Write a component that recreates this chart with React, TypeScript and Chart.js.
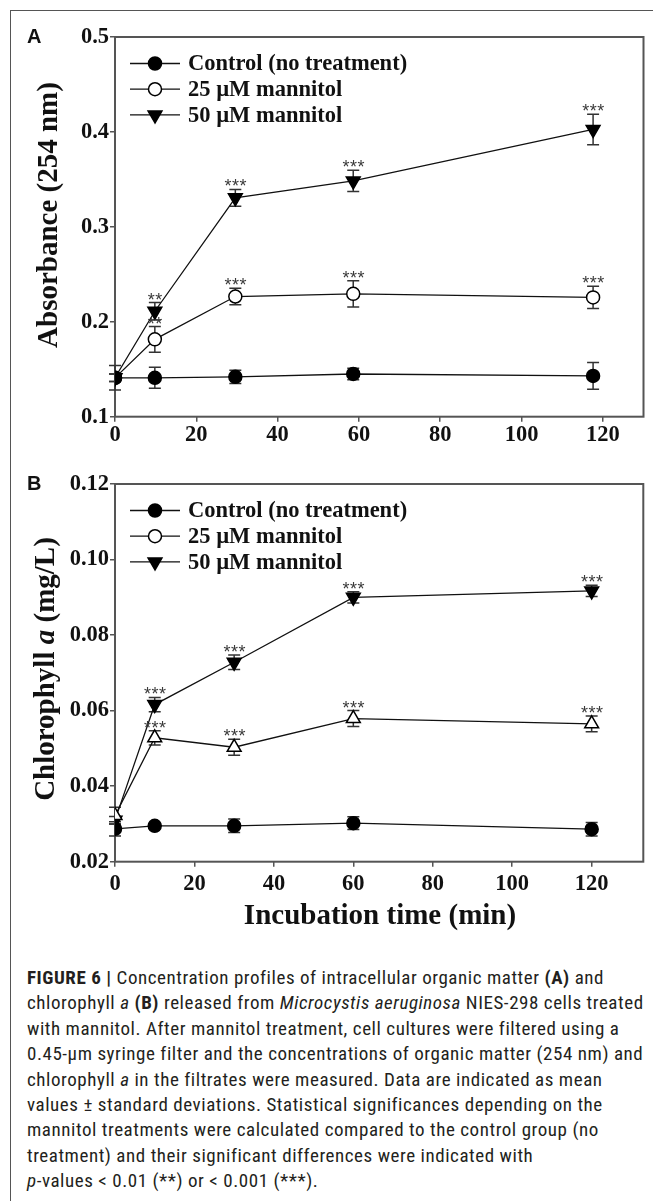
import React, { useEffect, useRef } from "react";
import { Chart, registerables } from "chart.js";

Chart.register(...registerables);

const SERIF = '"Liberation Serif", "Times New Roman", Times, serif';
const SANS = '"Liberation Sans", Arial, Helvetica, sans-serif';

// ---------- Panel A : Absorbance (254 nm) ----------
const timeA = [0, 9.8, 29.6, 58.6, 117.6];
const controlA = [0.141, 0.141, 0.142, 0.145, 0.143];
const controlAErr = [0.013, 0.011, 0.007, 0.006, 0.014];
const mannitol25A = [0.141, 0.1815, 0.2266, 0.2294, 0.2257];
const mannitol25AErr = [0.004, 0.0135, 0.0086, 0.0139, 0.0116];
const mannitol50A = [0.141, 0.2111, 0.3306, 0.3484, 0.4026];
const mannitol50AErr = [0.004, 0.0092, 0.0088, 0.0112, 0.016];
const sig25A = ["", "**", "***", "***", "***"];
const sig50A = ["", "**", "***", "***", "***"];
const xTicksA = [0, 20, 40, 60, 80, 100, 120];
const yTicksA = [0.1, 0.2, 0.3, 0.4, 0.5];

// ---------- Panel B : Chlorophyll a (mg/L) ----------
const timeB = [0, 10, 30, 60, 120];
const controlB = [0.0287, 0.0295, 0.0295, 0.0302, 0.0286];
const controlBErr = [0.0019, 0.0005, 0.0018, 0.0017, 0.0018];
const mannitol25B = [0.0322, 0.0528, 0.0503, 0.0579, 0.0565];
const mannitol25BErr = [0.0022, 0.0019, 0.0021, 0.0021, 0.0021];
const mannitol50B = [0.031, 0.0616, 0.0728, 0.09, 0.0917];
const mannitol50BErr = [0.001, 0.0019, 0.0019, 0.0015, 0.0015];
const sig25B = ["", "***", "***", "***", "***"];
const sig50B = ["", "***", "***", "***", "***"];
const xTicksB = [0, 20, 40, 60, 80, 100, 120];
const yTicksB = [0.02, 0.04, 0.06, 0.08, 0.1, 0.12];

const legendLabels = ["Control (no treatment)", "25 \u00b5M mannitol", "50 \u00b5M mannitol"];

type Marker = "filledCircle" | "openCircle" | "downTri" | "openUpTri";

interface SeriesSpec {
  label: string;
  values: number[];
  err: number[];
  sig: string[] | null;
  marker: Marker;
  legendMarker: Marker;
}

interface PanelSpec {
  xs: number[];
  xMax: number;
  xTicks: number[];
  yTicks: number[];
  yMin: number;
  yMax: number;
  yDecimals: number;
  series: SeriesSpec[];
  letter: string;
  yTitleParts: [string, boolean][];
  yTitleCx: number;
  yTitleCy: number;
  xTitle: string | null;
  xTitleCx: number;
  xTitleCy: number;
  canvasTop: number;
  canvasH: number;
  padTop: number;
  padRight: number;
  padBottom: number;
  xAxisHeight: number;
  xLabelPad: number;
  letterY: number;
}

function drawMarker(ctx: CanvasRenderingContext2D, kind: Marker, x: number, y: number) {
  ctx.save();
  ctx.lineWidth = 1.5;
  ctx.strokeStyle = "#000";
  ctx.beginPath();
  if (kind === "filledCircle" || kind === "openCircle") {
    ctx.arc(x, y, 6.5, 0, Math.PI * 2);
    ctx.fillStyle = kind === "filledCircle" ? "#000" : "#fff";
  } else if (kind === "downTri") {
    const r = 8;
    ctx.moveTo(x, y + r);
    ctx.lineTo(x - r * 0.866, y - r / 2);
    ctx.lineTo(x + r * 0.866, y - r / 2);
    ctx.closePath();
    ctx.fillStyle = "#000";
  } else {
    const r = 8;
    ctx.moveTo(x, y - r);
    ctx.lineTo(x - r * 0.866, y + r / 2);
    ctx.lineTo(x + r * 0.866, y + r / 2);
    ctx.closePath();
    ctx.fillStyle = "#fff";
  }
  ctx.fill();
  ctx.stroke();
  ctx.restore();
}

function pointProps(kind: Marker) {
  switch (kind) {
    case "filledCircle":
      return { pointStyle: "circle", pointRadius: 6.5, pointBackgroundColor: "#000", pointRotation: 0 };
    case "openCircle":
      return { pointStyle: "circle", pointRadius: 6.5, pointBackgroundColor: "#fff", pointRotation: 0 };
    case "downTri":
      return { pointStyle: "triangle", pointRadius: 8, pointBackgroundColor: "#000", pointRotation: 180 };
    default:
      return { pointStyle: "triangle", pointRadius: 8, pointBackgroundColor: "#fff", pointRotation: 0 };
  }
}

function buildChart(canvas: HTMLCanvasElement, spec: PanelSpec) {
  const decor = {
    id: "decor" + spec.letter,
    beforeDatasetsDraw(chart: any) {
      const { ctx, chartArea: ca, scales } = chart;
      const x = scales.x;
      const y = scales.y;
      ctx.save();
      // plot frame
      ctx.strokeStyle = "#555";
      ctx.lineWidth = 2;
      ctx.strokeRect(ca.left, ca.top, ca.right - ca.left, ca.bottom - ca.top);
      // error bars
      ctx.strokeStyle = "#333";
      ctx.lineWidth = 1.5;
      spec.series.forEach((s) => {
        spec.xs.forEach((xv, i) => {
          const px = x.getPixelForValue(xv);
          const top = y.getPixelForValue(s.values[i] + s.err[i]);
          const bot = y.getPixelForValue(s.values[i] - s.err[i]);
          ctx.beginPath();
          ctx.moveTo(px, top);
          ctx.lineTo(px, bot);
          ctx.moveTo(px - 6, top);
          ctx.lineTo(px + 6, top);
          ctx.moveTo(px - 6, bot);
          ctx.lineTo(px + 6, bot);
          ctx.stroke();
        });
      });
      ctx.restore();
    },
    afterDraw(chart: any) {
      const { ctx, chartArea: ca, scales } = chart;
      const x = scales.x;
      const y = scales.y;
      ctx.save();
      // significance stars
      ctx.font = `18px ${SANS}`;
      ctx.fillStyle = "#3a3a3a";
      ctx.textAlign = "center";
      ctx.textBaseline = "alphabetic";
      try {
        (ctx as any).letterSpacing = "0.5px";
      } catch (e) {
        /* ignore */
      }
      spec.series.forEach((s) => {
        if (!s.sig) return;
        spec.xs.forEach((xv, i) => {
          const t = s.sig![i];
          if (!t) return;
          const px = x.getPixelForValue(xv);
          const top = y.getPixelForValue(s.values[i] + s.err[i]);
          ctx.fillText(t, px + 0.5, top + 3);
        });
      });
      try {
        (ctx as any).letterSpacing = "0px";
      } catch (e) {
        /* ignore */
      }
      // legend
      spec.series.forEach((s, i) => {
        const ly = ca.top + 26.5 + i * 25.7;
        ctx.strokeStyle = "#111";
        ctx.lineWidth = 1.3;
        ctx.beginPath();
        ctx.moveTo(130, ly);
        ctx.lineTo(180, ly);
        ctx.stroke();
        drawMarker(ctx, s.legendMarker, 155, ly);
        ctx.fillStyle = "#111";
        ctx.font = `bold 22.5px ${SERIF}`;
        ctx.textAlign = "left";
        ctx.textBaseline = "middle";
        ctx.fillText(s.label, 188, ly + 1);
      });
      // panel letter
      ctx.fillStyle = "#111";
      ctx.font = `bold 20px ${SANS}`;
      ctx.textAlign = "left";
      ctx.textBaseline = "middle";
      ctx.fillText(spec.letter, 27, spec.letterY);
      // y title
      ctx.save();
      ctx.translate(spec.yTitleCx, spec.yTitleCy);
      ctx.rotate(-Math.PI / 2);
      ctx.textBaseline = "middle";
      ctx.textAlign = "left";
      const fonts = spec.yTitleParts.map(([, it]) => (it ? `italic bold 29px ${SERIF}` : `bold 29px ${SERIF}`));
      let total = 0;
      const widths = spec.yTitleParts.map(([t], k) => {
        ctx.font = fonts[k];
        const w = ctx.measureText(t).width;
        total += w;
        return w;
      });
      let cx = -total / 2;
      spec.yTitleParts.forEach(([t], k) => {
        ctx.font = fonts[k];
        ctx.fillText(t, cx, 0);
        cx += widths[k];
      });
      ctx.restore();
      // x title
      if (spec.xTitle) {
        ctx.font = `bold 29px ${SERIF}`;
        ctx.textAlign = "center";
        ctx.textBaseline = "middle";
        ctx.fillText(spec.xTitle, spec.xTitleCx, spec.xTitleCy);
      }
      ctx.restore();
    },
  };

  const datasets = spec.series.map((s) => ({
    label: s.label,
    data: spec.xs.map((xv, i) => ({ x: xv, y: s.values[i] })),
    borderColor: "#111",
    borderWidth: 1.3,
    pointBorderColor: "#000",
    pointBorderWidth: 1.5,
    tension: 0,
    fill: false,
    ...pointProps(s.marker),
  }));

  const tickFont = { family: SERIF, size: 22.5, weight: "bold" as const };

  return new Chart(canvas, {
    type: "line",
    data: { datasets: datasets as any },
    options: {
      animation: false,
      responsive: false,
      maintainAspectRatio: false,
      layout: { padding: { left: 0, top: spec.padTop, right: spec.padRight, bottom: spec.padBottom } },
      plugins: { legend: { display: false }, tooltip: { enabled: false } },
      scales: {
        x: {
          type: "linear",
          min: 0,
          max: spec.xMax,
          afterBuildTicks: (s: any) => {
            s.ticks = spec.xTicks.map((v) => ({ value: v }));
          },
          afterFit: (s: any) => {
            s.height = spec.xAxisHeight;
          },
          grid: { drawOnChartArea: false, drawTicks: true, tickLength: 5, color: "#555", lineWidth: 1.5 },
          border: { display: false },
          ticks: {
            font: tickFont,
            color: "#111",
            padding: spec.xLabelPad,
            maxRotation: 0,
            autoSkip: false,
            callback: (v: any) => String(v),
          },
        },
        y: {
          type: "linear",
          min: spec.yMin,
          max: spec.yMax,
          afterBuildTicks: (s: any) => {
            s.ticks = spec.yTicks.map((v) => ({ value: v }));
          },
          afterFit: (s: any) => {
            s.width = 115;
          },
          grid: { drawOnChartArea: false, drawTicks: true, tickLength: 5, color: "#555", lineWidth: 1.5 },
          border: { display: false },
          ticks: {
            font: tickFont,
            color: "#111",
            padding: 1,
            autoSkip: false,
            callback: (v: any) => Number(v).toFixed(spec.yDecimals),
          },
        },
      },
    } as any,
    plugins: [decor],
  });
}

const panelA: PanelSpec = {
  xs: timeA,
  xMax: 130,
  xTicks: xTicksA,
  yTicks: yTicksA,
  yMin: 0.1,
  yMax: 0.5,
  yDecimals: 1,
  series: [
    { label: legendLabels[0], values: controlA, err: controlAErr, sig: null, marker: "filledCircle", legendMarker: "filledCircle" },
    { label: legendLabels[1], values: mannitol25A, err: mannitol25AErr, sig: sig25A, marker: "openCircle", legendMarker: "openCircle" },
    { label: legendLabels[2], values: mannitol50A, err: mannitol50AErr, sig: sig50A, marker: "downTri", legendMarker: "downTri" },
  ],
  letter: "A",
  yTitleParts: [["Absorbance (254 nm)", false]],
  yTitleCx: 50,
  yTitleCy: 215,
  xTitle: null,
  xTitleCx: 0,
  xTitleCy: 0,
  canvasTop: 0,
  canvasH: 460,
  padTop: 37,
  padRight: 9,
  padBottom: 13.3,
  xAxisHeight: 30,
  xLabelPad: 0,
  letterY: 37,
};

const panelB: PanelSpec = {
  xs: timeB,
  xMax: 133,
  xTicks: xTicksB,
  yTicks: yTicksB,
  yMin: 0.02,
  yMax: 0.12,
  yDecimals: 2,
  series: [
    { label: legendLabels[0], values: controlB, err: controlBErr, sig: null, marker: "filledCircle", legendMarker: "filledCircle" },
    { label: legendLabels[1], values: mannitol25B, err: mannitol25BErr, sig: sig25B, marker: "openUpTri", legendMarker: "openCircle" },
    { label: legendLabels[2], values: mannitol50B, err: mannitol50BErr, sig: sig50B, marker: "downTri", legendMarker: "downTri" },
  ],
  letter: "B",
  yTitleParts: [["Chlorophyll ", false], ["a", true], [" (mg/L)", false]],
  yTitleCx: 47,
  yTitleCy: 209,
  xTitle: "Incubation time (min)",
  xTitleCx: 380,
  xTitleCy: 457,
  canvasTop: 460,
  canvasH: 480,
  padTop: 24,
  padRight: 9.7,
  padBottom: 48.3,
  xAxisHeight: 30,
  xLabelPad: 4,
  letterY: 24,
};

function Panel({ spec }: { spec: PanelSpec }) {
  const ref = useRef<HTMLCanvasElement | null>(null);
  useEffect(() => {
    if (!ref.current) return;
    const chart = buildChart(ref.current, spec);
    return () => chart.destroy();
  }, [spec]);
  return (
    <canvas
      ref={ref}
      width={653}
      height={spec.canvasH}
      style={{ position: "absolute", left: 0, top: spec.canvasTop, width: 653, height: spec.canvasH }}
    />
  );
}

const CAPTION_FONT = '"Liberation Sans Narrow", "Roboto Condensed", "DejaVu Sans Condensed", "Liberation Sans", sans-serif';

export default function App() {
  return (
    <div style={{ position: "absolute", left: 0, top: 0, width: 653, height: 1201, overflow: "hidden", background: "#fff" }}>
      <div
        style={{
          position: "absolute",
          left: 10,
          top: 10,
          width: 800,
          height: 1400,
          borderTop: "1.5px solid #555",
          borderLeft: "1.5px solid #555",
        }}
      />
      <Panel spec={panelA} />
      <Panel spec={panelB} />
      <div
        style={{
          position: "absolute",
          left: 27,
          top: 965,
          fontFamily: CAPTION_FONT,
          fontSize: 19,
          letterSpacing: "0.55px",
          lineHeight: "25.4px",
          color: "#231f20",
          whiteSpace: "nowrap",
        }}
      >
        <div>
          <b>FIGURE 6 |</b> Concentration profiles of intracellular organic matter <b>(A)</b> and
        </div>
        <div>
          chlorophyll <i>a</i> <b>(B)</b> released from <i>Microcystis aeruginosa</i> NIES-298 cells treated
        </div>
        <div>with mannitol. After mannitol treatment, cell cultures were filtered using a</div>
        <div>0.45-µm syringe filter and the concentrations of organic matter (254 nm) and</div>
        <div>
          chlorophyll <i>a</i> in the filtrates were measured. Data are indicated as mean
        </div>
        <div>values ± standard deviations. Statistical significances depending on the</div>
        <div>mannitol treatments were calculated compared to the control group (no</div>
        <div>treatment) and their significant differences were indicated with</div>
        <div>
          <i>p</i>-values &lt; 0.01 (**) or &lt; 0.001 (***).
        </div>
      </div>
    </div>
  );
}
